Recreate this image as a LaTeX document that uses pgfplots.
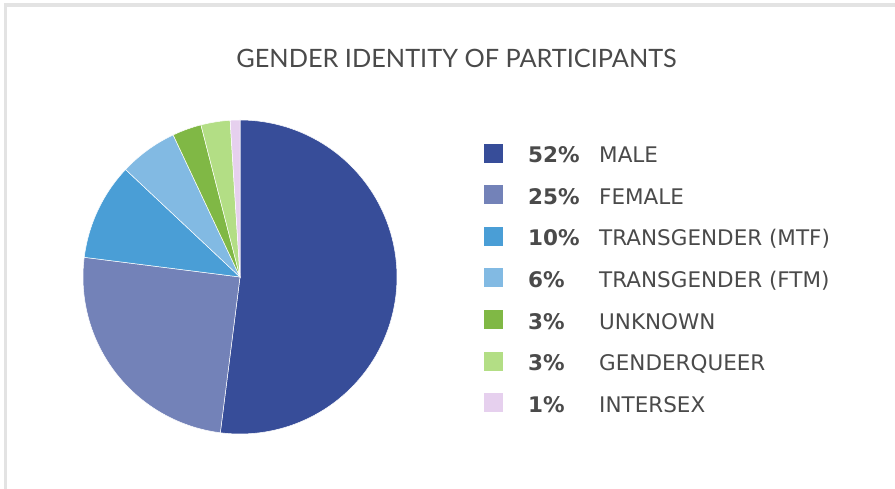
\documentclass[border=0pt]{standalone}
\usepackage{pgfplots}
\pgfplotsset{compat=1.18}
\usepackage{fontspec}
\setmainfont{Lato}
\newfontfamily\legfont{DejaVu Sans}
\definecolor{cMale}{HTML}{374D99}
\definecolor{cFemale}{HTML}{7382B8}
\definecolor{cMTF}{HTML}{4A9ED6}
\definecolor{cFTM}{HTML}{82BAE3}
\definecolor{cUnk}{HTML}{80B845}
\definecolor{cGQ}{HTML}{B3DE85}
\definecolor{cInter}{HTML}{E6D0EE}
\definecolor{txt}{HTML}{4A4A4A}
\definecolor{frame}{HTML}{E3E3E3}
% slice: cumulative start %, cumulative end %, colour
\newcommand{\slice}[3]{%
  \addplot[fill=#3, draw=white, line width=0.5pt, domain=90-3.6*#2:90-3.6*#1,
    samples=90, variable=\t] ({240+157*cos(\t)},{212+157*sin(\t)}) -- (axis cs:240,212) -- cycle;}
\newcommand{\legitem}[4]{% baseline y (pixels from top), colour, percent, label
  \node[anchor=base west, inner sep=0pt] at (axis cs:484,489-#1) {\textcolor{#2}{\rule{19pt}{19pt}}};
  \node[anchor=base west, inner sep=0pt, text=txt, font=\legfont\fontsize{21.5}{24}\selectfont\bfseries] at (axis cs:528,489-#1) {#3\%};
  \node[anchor=base west, inner sep=0pt, text=txt, font=\legfont\fontsize{21.5}{24}\selectfont] at (axis cs:599,489-#1) {#4};}
\begin{document}
\begin{tikzpicture}
\begin{axis}[width=895pt, height=489pt, scale only axis, hide axis,
  xmin=0, xmax=895, ymin=0, ymax=489, clip=false]
\path (axis cs:0,0) rectangle (axis cs:895,489);
\fill[frame] (axis cs:4,0) rectangle (axis cs:6.5,485);
\fill[frame] (axis cs:4,482) rectangle (axis cs:895,486);
\node[anchor=base, inner sep=0pt, text=txt, font=\fontsize{25.3}{28}\selectfont] at (axis cs:456.5,489-68) {GENDER IDENTITY OF PARTICIPANTS};
% values: 52, 25, 10, 6, 3, 3, 1 (percent)
\slice{0}{52}{cMale}
\slice{52}{77}{cFemale}
\slice{77}{87}{cMTF}
\slice{87}{93}{cFTM}
\slice{93}{96}{cUnk}
\slice{96}{99}{cGQ}
\slice{99}{100}{cInter}
\legitem{162.7}{cMale}{52}{MALE}
\legitem{204.3}{cFemale}{25}{FEMALE}
\legitem{245.9}{cMTF}{10}{TRANSGENDER (MTF)}
\legitem{287.5}{cFTM}{6}{TRANSGENDER (FTM)}
\legitem{329.1}{cUnk}{3}{UNKNOWN}
\legitem{370.7}{cGQ}{3}{GENDERQUEER}
\legitem{412.3}{cInter}{1}{INTERSEX}
\end{axis}
\end{tikzpicture}
\end{document}
